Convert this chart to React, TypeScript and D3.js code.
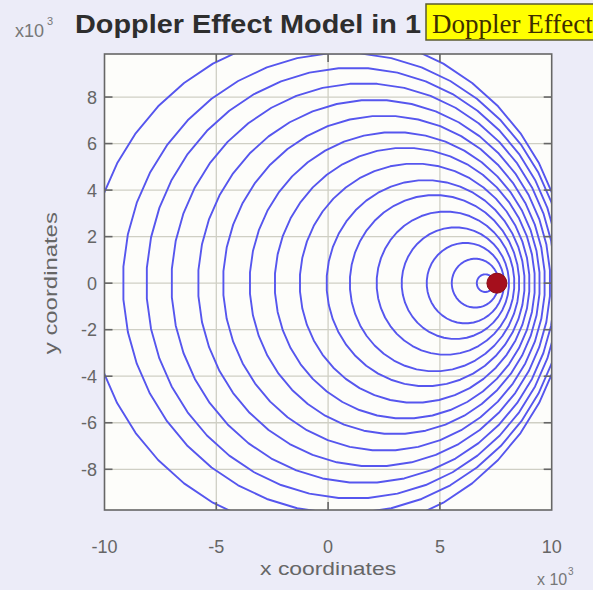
import React from "react";
import * as d3 from "d3";

const width = 593;
const height = 590;
const plot = { left: 104.5, right: 551.7, top: 54, bottom: 510 };

// wave fronts, oldest first (units of 10^3)
const waveCenterX = [0, 0.72, 1.13, 1.58, 2.06, 2.5, 2.98, 3.43, 3.87, 4.36, 4.76, 5.25, 5.69, 6.14, 6.58, 7.03];
const waveRadius = [10.75, 9.9, 9.26, 8.59, 7.88, 7.2, 6.49, 5.82, 5.14, 4.43, 3.79, 3.08, 2.4, 1.73, 1.05, 0.38];
const sourceX = 7.55;
const sourceY = 0;

const xDomain = [-10, 10];
const yDomain = [-9.75, 9.85];
const xTicks = [-10, -5, 0, 5, 10];
const yTicks = [-8, -6, -4, -2, 0, 2, 4, 6, 8];

const titleText = "Doppler Effect Model in 1";
const tipText = "Doppler Effect";
const xLabel = "x coordinates";
const yLabel = "y coordinates";

const segs = 44; // circles in the original are slightly faceted

export default function App() {
  const x = d3.scaleLinear().domain(xDomain).range([plot.left, plot.right]);
  const y = d3.scaleLinear().domain(yDomain).range([plot.bottom, plot.top]);

  const line = d3
    .line<[number, number]>()
    .x((d) => x(d[0]))
    .y((d) => y(d[1]))
    .curve(d3.curveLinearClosed);

  const waves = waveCenterX.map((cx, i) => {
    const r = waveRadius[i];
    const pts = d3.range(segs).map((k) => {
      const a = (2 * Math.PI * (k + 0.5)) / segs;
      return [cx + r * Math.cos(a), r * Math.sin(a)] as [number, number];
    });
    return line(pts);
  });

  const tick = 8;
  const axisCol = "#666";
  const labelCol = "#666";
  const font = "Liberation Sans, Arial, sans-serif";

  return (
    <svg
      width={width}
      height={height}
      style={{ position: "absolute", left: 0, top: 0 }}
      fontFamily={font}
    >
      <defs>
        <clipPath id="plotClip">
          <rect x={plot.left} y={plot.top} width={plot.right - plot.left} height={plot.bottom - plot.top} />
        </clipPath>
      </defs>
      <rect width={width} height={height} fill="#ececf8" />
      <rect
        x={plot.left}
        y={plot.top}
        width={plot.right - plot.left}
        height={plot.bottom - plot.top}
        fill="#fdfdfa"
      />

      {/* grid */}
      <g stroke="#cfcfc4" strokeWidth={1.3}>
        {xTicks.slice(1, -1).map((t) => (
          <line key={"gx" + t} x1={x(t)} x2={x(t)} y1={plot.top} y2={plot.bottom} />
        ))}
        {yTicks.map((t) => (
          <line key={"gy" + t} x1={plot.left} x2={plot.right} y1={y(t)} y2={y(t)} />
        ))}
      </g>

      {/* wave fronts */}
      <g clipPath="url(#plotClip)" fill="none" stroke="#5656ee" strokeWidth={1.9} strokeLinejoin="round">
        {waves.map((d, i) => (
          <path key={i} d={d || ""} />
        ))}
        <circle cx={x(sourceX)} cy={y(sourceY)} r={10} fill="#a50f1c" stroke="#8a0a14" strokeWidth={1} />
      </g>

      {/* frame and ticks */}
      <g stroke={axisCol} strokeWidth={1.6}>
        <rect
          x={plot.left}
          y={plot.top}
          width={plot.right - plot.left}
          height={plot.bottom - plot.top}
          fill="none"
        />
        {yTicks.map((t) => (
          <g key={"ty" + t}>
            <line x1={plot.left} x2={plot.left + tick} y1={y(t)} y2={y(t)} />
            <line x1={plot.right - tick} x2={plot.right} y1={y(t)} y2={y(t)} />
          </g>
        ))}
        {xTicks.slice(1, -1).map((t) => (
          <g key={"tx" + t}>
            <line x1={x(t)} x2={x(t)} y1={plot.bottom} y2={plot.bottom - tick} />
            <line x1={x(t)} x2={x(t)} y1={plot.top} y2={plot.top + tick} />
          </g>
        ))}
      </g>

      {/* tick labels */}
      <g fill={labelCol} fontSize={18}>
        {xTicks.map((t) => (
          <text key={"lx" + t} x={x(t)} y={553} textAnchor="middle">
            {String(t)}
          </text>
        ))}
        {yTicks.map((t) => (
          <text key={"ly" + t} x={97} y={y(t)} dy="0.36em" textAnchor="end">
            {String(t)}
          </text>
        ))}
      </g>

      {/* axis labels */}
      <text x={x(0)} y={575} textAnchor="middle" fontSize={18} fill={labelCol} textLength={136} lengthAdjust="spacingAndGlyphs">
        {xLabel}
      </text>
      <text
        transform={`translate(57,${y(0)}) rotate(-90)`}
        textAnchor="middle"
        fontSize={18}
        fill={labelCol}
        textLength={142}
        lengthAdjust="spacingAndGlyphs"
      >
        {yLabel}
      </text>

      {/* exponent markers */}
      <g fill="#777">
        <text x={15} y={37} fontSize={18}>x10</text>
        <text x={47} y={25} fontSize={11}>3</text>
        <text x={537} y={585} fontSize={16}>x 10</text>
        <text x={568} y={575} fontSize={10}>3</text>
      </g>

      {/* title */}
      <text x={75} y={33} fontSize={26} fontWeight="bold" fill="#2e2e2e" textLength={346} lengthAdjust="spacingAndGlyphs">
        {titleText}
      </text>
      <rect x={426} y={4} width={180} height={36} fill="#ffff00" stroke="#5a5a30" strokeWidth={1.5} />
      <text x={432} y={33} fontSize={27} fill="#3d2e00" fontFamily="Liberation Serif, Times New Roman, serif">
        {tipText}
      </text>
    </svg>
  );
}
